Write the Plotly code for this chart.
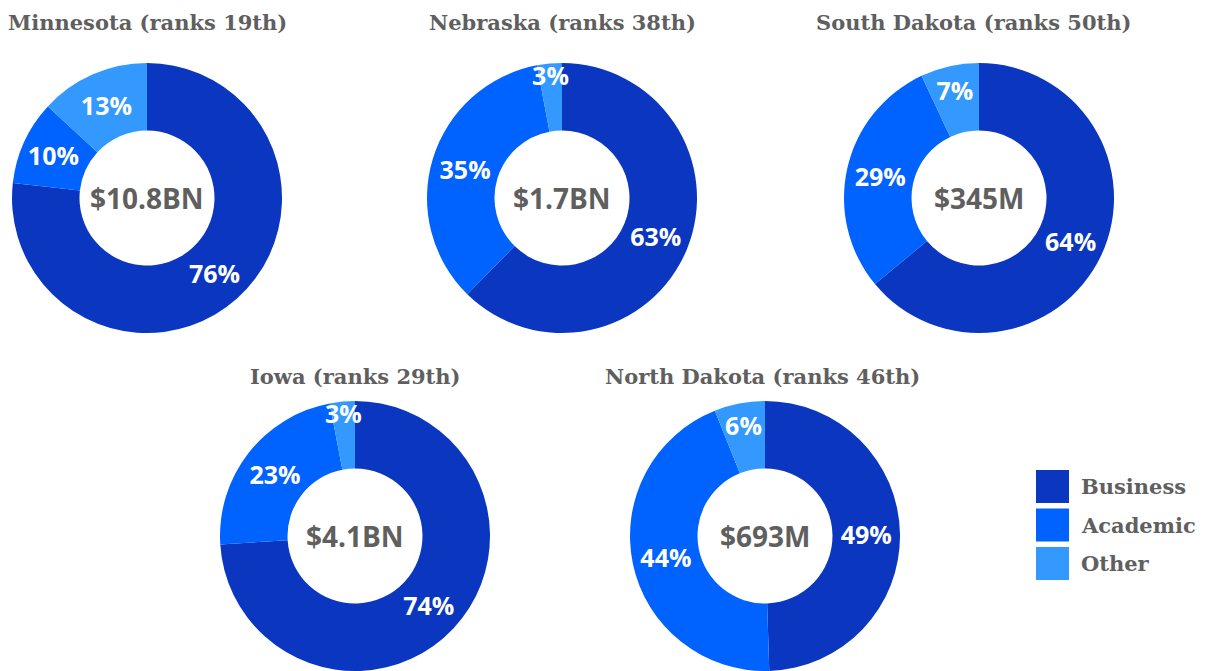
import plotly.graph_objects as go

W, H = 1207, 671

categories = ["Business", "Academic", "Other"]
colors = ["#0a36c0", "#0062ff", "#3399ff"]

states = ["Minnesota", "Nebraska", "South Dakota", "Iowa", "North Dakota"]
ranks = ["19th", "38th", "50th", "29th", "46th"]
totals = ["$10.8BN", "$1.7BN", "$345M", "$4.1BN", "$693M"]
minnesota = [76, 10, 13]
nebraska = [63, 35, 3]
south_dakota = [64, 29, 7]
iowa = [74, 23, 3]
north_dakota = [49, 44, 6]
values = [minnesota, nebraska, south_dakota, iowa, north_dakota]

# layout (pixel centres and radius)
centers = [(147, 198), (562, 198), (979, 198), (355, 536), (765, 536)]
R = 135
title_y = [22, 22, 22, 376, 376]
title_x = [147, 562, 973, 355, 762]

TXT = "#5f5f5f"
SERIF = "DejaVu Serif"
SANS = "Open Sans"

fig = go.Figure()
annotations = []
for i, st in enumerate(states):
    cx, cy = centers[i]
    fig.add_trace(go.Pie(
        labels=categories,
        values=values[i],
        text=[f"{v}%" for v in values[i]],
        textinfo="text",
        textposition="inside",
        insidetextorientation="horizontal",
        textfont=dict(family=SANS, size=25, color="white", weight="bold"),
        marker=dict(colors=colors, line=dict(width=0)),
        hole=0.5,
        sort=False,
        direction="clockwise",
        rotation=0,
        showlegend=False,
        hoverinfo="label+text",
        domain=dict(x=[(cx - R) / W, (cx + R) / W],
                    y=[max(0, 1 - (cy + R) / H), min(1, 1 - (cy - R) / H)]),
    ))
    annotations.append(dict(
        x=cx / W, y=1 - cy / H, xref="paper", yref="paper",
        text=f"<b>{totals[i]}</b>", showarrow=False,
        font=dict(family=SANS, size=28, color=TXT),
        xanchor="center", yanchor="middle"))
    annotations.append(dict(
        x=title_x[i] / W, y=1 - title_y[i] / H, xref="paper", yref="paper",
        text=f"<b>{st} (ranks {ranks[i]})</b>", showarrow=False,
        font=dict(family=SERIF, size=21, color=TXT),
        xanchor="center", yanchor="middle"))

# manual legend
shapes = []
leg_x0, leg_y0, box, gap = 1036, 470, 33, 38.5
for j, cat in enumerate(categories):
    y0 = leg_y0 + j * gap
    shapes.append(dict(type="rect", xref="paper", yref="paper",
                       x0=leg_x0 / W, x1=(leg_x0 + box) / W,
                       y0=1 - (y0 + box) / H, y1=1 - y0 / H,
                       fillcolor=colors[j], line=dict(width=0)))
    annotations.append(dict(
        x=(leg_x0 + box + 10) / W, y=1 - (y0 + box / 2) / H,
        xref="paper", yref="paper", text=f"<b>{cat}</b>", showarrow=False,
        font=dict(family=SERIF, size=21, color=TXT),
        xanchor="left", yanchor="middle"))

fig.update_layout(
    width=W, height=H,
    margin=dict(l=0, r=0, t=0, b=0),
    paper_bgcolor="white", plot_bgcolor="white",
    annotations=annotations, shapes=shapes,
    showlegend=False,
    uniformtext=dict(minsize=25, mode="show"),
)

fig.write_html("out.html",
               config={"displayModeBar": False},
               post_script="document.body.style.margin='0';document.body.style.padding='0';")
